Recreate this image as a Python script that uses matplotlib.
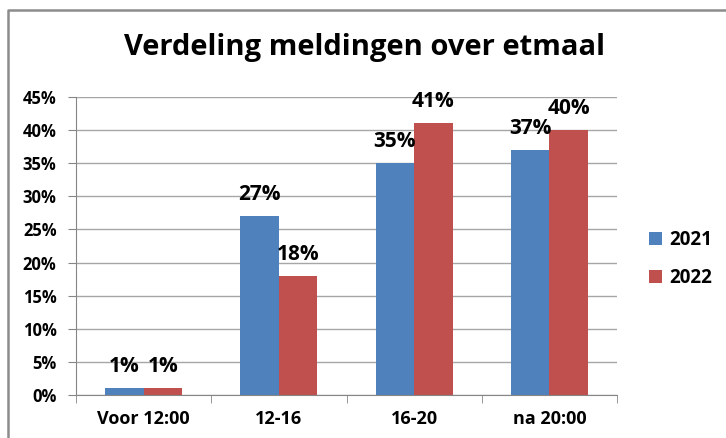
import matplotlib.pyplot as plt
import numpy as np
from matplotlib.lines import Line2D

categories = ['Voor 12:00', '12-16', '16-20', 'na 20:00']
years = ['2021', '2022']
values_2021 = [1, 27, 35, 37]
values_2022 = [1, 18, 41, 40]
yticks = [0, 5, 10, 15, 20, 25, 30, 35, 40, 45]

blue = '#4F81BD'
red = '#C0504D'

plt.rcParams['font.family'] = ['Open Sans', 'DejaVu Sans']

fig = plt.figure(figsize=(7.26, 4.38), dpi=100)
fig.patch.set_facecolor('white')

# chart frame: only top and left edges are visible in the crop
fx, fy = 8 / 726, 1 - 10 / 438
fig.lines.append(Line2D([fx, fx, 1.0], [0.0, fy, fy], transform=fig.transFigure,
                        color='#8c8c8c', linewidth=1.8))

ax = fig.add_axes([76 / 726, 43 / 438, 541 / 726, 298 / 438])

x = np.arange(len(categories))
w = 0.285
b1 = ax.bar(x - w / 2, values_2021, w, color=blue, label=years[0])
b2 = ax.bar(x + w / 2, values_2022, w, color=red, label=years[1])

for bars, vals in [(b1, values_2021), (b2, values_2022)]:
    for rect, v in zip(bars, vals):
        ax.annotate(f'{v}%', (rect.get_x() + rect.get_width() / 2, v),
                    xytext=(0, 8), textcoords='offset points',
                    ha='center', va='bottom', fontsize=15, fontweight='bold')

ax.set_xlim(-0.5, len(categories) - 0.5)
ax.set_ylim(0, 45)
ax.set_yticks(yticks)
ax.set_yticklabels([f'{t}%' for t in yticks], fontsize=12, fontweight='bold')
ax.set_xticks(x)
ax.set_xticklabels(categories, fontsize=13, fontweight='bold')
ax.tick_params(axis='x', length=0, pad=11)
ax.tick_params(axis='y', length=6, pad=8, color='#868686')
ax.set_xticks(np.arange(-0.5, len(categories)), minor=True)
ax.tick_params(axis='x', which='minor', length=6, color='#868686')

ax.yaxis.grid(True, color='#a6a6a6', linewidth=1)
ax.set_axisbelow(True)
for s in ['top', 'right']:
    ax.spines[s].set_visible(False)
ax.spines['left'].set_color('#868686')
ax.spines['bottom'].set_color('#868686')

fig.text(365 / 726, 1 - 48 / 438, 'Verdeling meldingen over etmaal',
         ha='center', va='center', fontsize=21, fontweight='bold')

fig.legend(loc='center left', bbox_to_anchor=(632 / 726, 1 - 259 / 438),
           frameon=False, handlelength=0.7, handleheight=0.7,
           handletextpad=0.4, labelspacing=0.95,
           prop={'weight': 'bold', 'size': 13.5})

fig.savefig('out.png', dpi=100)
